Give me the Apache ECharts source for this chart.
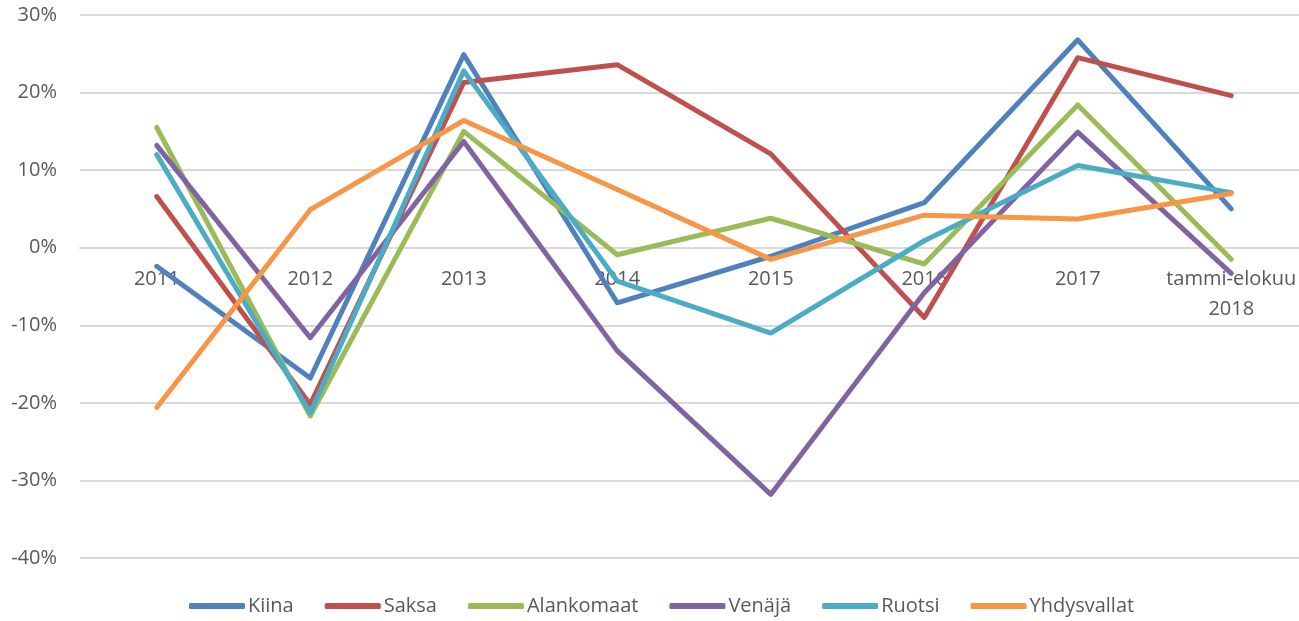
<!DOCTYPE html>
<html>
<head>
<meta charset="utf-8">
<script src="https://cdn.jsdelivr.net/npm/echarts@6/dist/echarts.min.js"></script>
<style>
  html, body { margin: 0; padding: 0; background: #fff; }
  #main { width: 1299px; height: 621px; }
</style>
</head>
<body>
<div id="main"></div>
<script>
// vuodet / kategoriat
const categories = ['2011', '2012', '2013', '2014', '2015', '2016', '2017', 'tammi-elokuu\n2018']
const seriesNames = ['Kiina', 'Saksa', 'Alankomaat', 'Venäjä', 'Ruotsi', 'Yhdysvallat']

// muutos %, luettu kuvasta
const kiina = [-2.4, -16.8, 24.9, -7.1, -1.1, 5.8, 26.8, 5.0]
const saksa = [6.6, -20.2, 21.3, 23.6, 12.1, -9.0, 24.5, 19.6]
const alankomaat = [15.5, -21.7, 15.0, -0.9, 3.8, -2.1, 18.4, -1.5]
const venaja = [13.2, -11.6, 13.7, -13.3, -31.8, -5.8, 14.9, -3.3]
const ruotsi = [12.0, -21.3, 22.8, -4.3, -11.0, 0.9, 10.6, 7.1]
const yhdysvallat = [-20.6, 4.9, 16.4, 7.5, -1.5, 4.2, 3.7, 7.0]

const colors = ['#4f81bd', '#c0504d', '#9bbb59', '#8064a2', '#4bacc6', '#f79646']
const allData = [kiina, saksa, alankomaat, venaja, ruotsi, yhdysvallat]

const myChart = echarts.init(document.getElementById('main'))

myChart.setOption({
  animation: false,
  color: colors,
  textStyle: { fontFamily: 'Open Sans' },
  grid: {
    left: 80,
    right: -9,
    top: 15,
    bottom: 63,
    outerBoundsMode: 'none',
  },
  legend: {
    data: seriesNames,
    left: 184,
    bottom: 0,
    icon: 'roundRect',
    itemWidth: 56,
    itemHeight: 6,
    itemGap: 31,
    textStyle: { fontSize: 20, color: '#595959', padding: [0, 0, 0, -2] },
  },
  xAxis: {
    type: 'category',
    data: categories,
    boundaryGap: true,
    axisTick: { show: false },
    axisLine: { onZero: false, lineStyle: { color: '#d9d9d9', width: 2 } },
    axisLabel: {
      fontSize: 20,
      color: '#595959',
      lineHeight: 30,
      margin: 17,
      interval: 0,
    },
  },
  yAxis: {
    type: 'value',
    min: -40,
    max: 30,
    interval: 10,
    axisLine: { show: false },
    axisTick: { show: false },
    splitLine: { lineStyle: { color: '#d9d9d9', width: 2 } },
    axisLabel: {
      formatter: '{value}%',
      fontSize: 20,
      color: '#595959',
      margin: 23,
    },
  },
  series: seriesNames.map((name, i) => ({
    name,
    type: 'line',
    data: allData[i],
    symbol: 'none',
    lineStyle: { width: 5, cap: 'round', join: 'round' },
  })),
})

// x-akseli nollan kohdalle
const zeroPx = myChart.convertToPixel({ yAxisIndex: 0 }, 0)
const bottomPx = myChart.convertToPixel({ yAxisIndex: 0 }, -40)
myChart.setOption({ xAxis: { offset: zeroPx - bottomPx } })
</script>
</body>
</html>
